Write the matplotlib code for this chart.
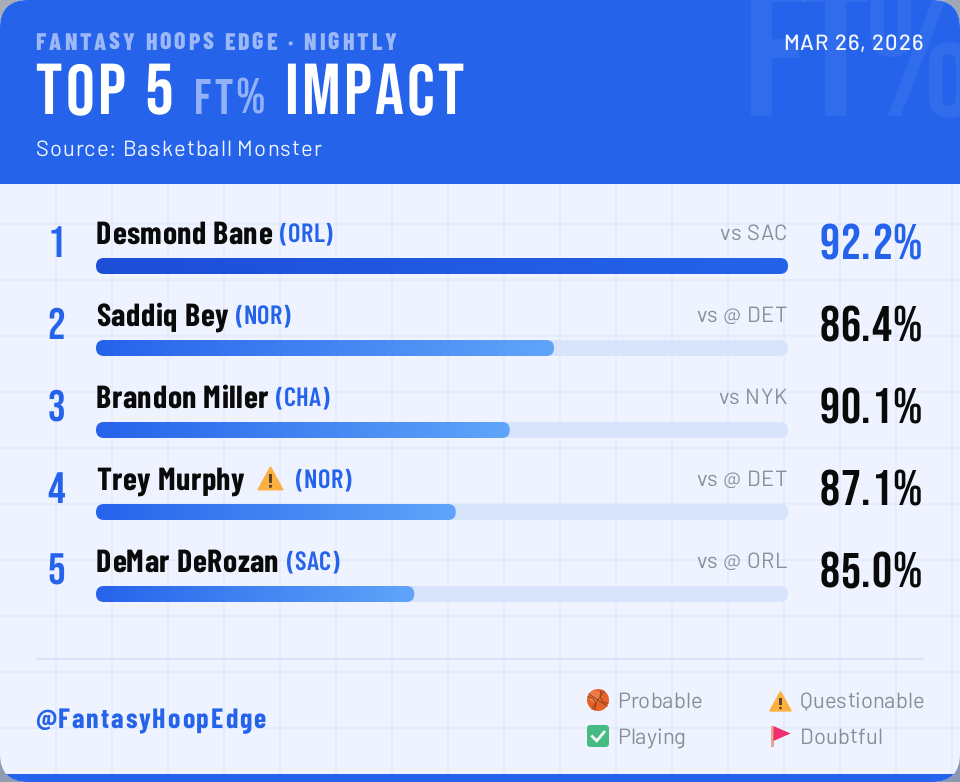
"""tarjeta top 5 FT% impact"""
import numpy as np
import matplotlib
matplotlib.use("Agg")
import matplotlib.pyplot as plt
from matplotlib.patches import FancyBboxPatch, Rectangle, Circle, Polygon, Arc
from matplotlib.text import Text
from matplotlib.transforms import Bbox
from matplotlib.colors import LinearSegmentedColormap

plt.rcParams["text.hinting"] = "no_hinting"
plt.rcParams["text.hinting_factor"] = 1

# datos de la tabla
rangos = ["1", "2", "3", "4", "5"]
jugadores = ["Desmond Bane", "Saddiq Bey", "Brandon Miller", "Trey Murphy", "DeMar DeRozan"]
equipos = ["(ORL)", "(NOR)", "(CHA)", "(NOR)", "(SAC)"]
rivales = ["vs SAC", "vs @ DET", "vs NYK", "vs @ DET", "vs @ ORL"]
porcentajes = ["92.2%", "86.4%", "90.1%", "87.1%", "85.0%"]
impacto = [100, 66.2, 59.8, 52, 46]
leyenda_izq = ["Probable", "Playing"]
leyenda_der = ["Questionable", "Doubtful"]

AZUL = "#2563eb"
GRIS = "#8a8e98"
NEGRO = "#0a0a0a"
FONDO = "#eef3ff"


class TextoEspaciado(Text):
    # texto normal pero con letter-spacing en pixeles
    def __init__(self, x, y, s, espacio=0, **kw):
        super().__init__(x, y, s, **kw)
        self.espacio = espacio

    def _ancho(self, renderer, s):
        return renderer.get_text_width_height_descent(s, self.get_fontproperties(), False)[0]

    def get_window_extent(self, renderer=None, dpi=None):
        bb = super().get_window_extent(renderer, dpi)
        extra = self.espacio * (len(self.get_text()) - 1)
        if self.get_ha() == "right":
            return Bbox.from_extents(bb.x0 - extra, bb.y0, bb.x1, bb.y1)
        if self.get_ha() == "center":
            return Bbox.from_extents(bb.x0 - extra / 2, bb.y0, bb.x1 + extra / 2, bb.y1)
        return Bbox.from_extents(bb.x0, bb.y0, bb.x1 + extra, bb.y1)

    def draw(self, renderer):
        completo = self.get_text()
        x, y = self.get_position()
        ha = self.get_ha()
        total = self._ancho(renderer, completo) + self.espacio * (len(completo) - 1)
        x0 = x
        if ha == "right":
            x0 = x - total
        elif ha == "center":
            x0 = x - total / 2
        self.set_ha("left")
        for i, ch in enumerate(completo):
            if ch == " ":
                continue
            dx = self._ancho(renderer, completo[:i + 1]) - self._ancho(renderer, ch)
            self.set_text(ch)
            self.set_x(x0 + dx + i * self.espacio)
            super().draw(renderer)
        self.set_text(completo)
        self.set_x(x)
        self.set_ha(ha)


fig = plt.figure(figsize=(9.6, 7.82), dpi=100)
ax = fig.add_axes([0, 0, 1, 1])
ax.set_xlim(0, 960)
ax.set_ylim(782, 0)
ax.axis("off")


def texto(x, y, s, px, color, familia="Barlow", peso="normal", ha="left", espacio=0, alpha=None, clip=None, z=5):
    t = TextoEspaciado(x, y, s, espacio=espacio, fontsize=px * 72 / 100, color=color, family=familia,
                       weight=peso, ha=ha, va="baseline", alpha=alpha, zorder=z)
    ax.add_artist(t)
    if clip is not None:
        t.set_clip_path(clip)
        t.set_clip_on(True)
    return t


def icono_alerta(x0, x1, y0, y1):
    g = (x1 - x0) * 0.06
    xc = (x0 + x1) / 2
    ax.add_patch(Polygon([[xc, y0 + g], [x1 - g, y1 - g], [x0 + g, y1 - g]], closed=True, fc="#fcb040", ec="#fcb040",
                         lw=1.5, joinstyle="round", zorder=6))
    alto = y1 - y0
    ax.add_patch(Rectangle((xc - alto * 0.05, y0 + alto * 0.32), alto * 0.1, alto * 0.36, fc="#5c4330", zorder=7))
    ax.add_patch(Circle((xc, y0 + alto * 0.81), alto * 0.065, fc="#5c4330", zorder=7))


def icono_balon(xc, yc, r):
    ax.add_patch(Circle((xc, yc), r, fc="#e5622a", ec="none", zorder=6))
    ax.add_patch(Circle((xc - r * 0.25, yc - r * 0.3), r * 0.55, fc="#f5945c", ec="none", alpha=0.55, zorder=6))
    tinta = "#8a3a1c"
    # costuras del balon
    ax.plot([xc - r * 0.55, xc + r * 0.55], [yc + r * 0.83, yc - r * 0.83], color=tinta, lw=0.6, zorder=7)
    ax.plot([xc - r * 0.83, xc + r * 0.83], [yc - r * 0.55, yc + r * 0.55], color=tinta, lw=0.6, zorder=7)
    ax.add_patch(Arc((xc - r * 0.95, yc + r * 0.45), r * 1.5, r * 1.5, theta1=-90, theta2=40, color=tinta, lw=0.6, zorder=7))
    ax.add_patch(Arc((xc + r * 0.95, yc - r * 0.45), r * 1.5, r * 1.5, theta1=90, theta2=220, color=tinta, lw=0.6, zorder=7))


def icono_check(x0, y0, lado):
    ax.add_patch(FancyBboxPatch((x0, y0), lado, lado, boxstyle="round,pad=0,rounding_size=3.5", fc="#46bb83", ec="none", zorder=6))
    ax.plot([x0 + lado * 0.24, x0 + lado * 0.44, x0 + lado * 0.78], [y0 + lado * 0.52, y0 + lado * 0.72, y0 + lado * 0.32],
            color="#f2fbf6", lw=2, solid_joinstyle="miter", zorder=7)


def icono_bandera(x0, y0):
    ax.add_patch(Rectangle((x0, y0), 2.5, 21, fc="#eaa58c", ec="none", zorder=6))
    ax.add_patch(Polygon([[x0 + 2.5, y0], [x0 + 19.5, y0 + 7.5], [x0 + 2.5, y0 + 15]], closed=True, fc="#ef2f6e", ec="none", zorder=6))


# fondo exterior, solo se ve en las esquinas
ax.imshow([[[0xa8, 0xae, 0xb8], [0x9d, 0xa7, 0xb6]], [[0x8f, 0x9c, 0xb1], [0x8a, 0x98, 0xb2]]],
          extent=(0, 960, 782, 0), aspect="auto", interpolation="bilinear", zorder=0)
ax.set_xlim(0, 960)
ax.set_ylim(782, 0)

tarjeta = FancyBboxPatch((0, 0), 960, 782, boxstyle="round,pad=0,rounding_size=28", fc=FONDO, ec="none", zorder=1)
ax.add_patch(tarjeta)

# cuadricula de fondo
for xg in range(56, 960, 56):
    ax.plot([xg, xg], [0, 782], color=AZUL, alpha=0.05, lw=1.3, zorder=2, clip_path=tarjeta)
for yg in range(56, 782, 56):
    ax.plot([0, 960], [yg, yg], color=AZUL, alpha=0.05, lw=1.3, zorder=2, clip_path=tarjeta)

# encabezado y franja de abajo
ax.add_patch(Rectangle((0, 0), 960, 184, fc=AZUL, ec="none", zorder=3, clip_path=tarjeta))
ax.add_patch(Rectangle((0, 774), 960, 8, fc=AZUL, ec="none", zorder=3, clip_path=tarjeta))

texto(742.5, 116, "FT%", 190, "white", "Bebas Neue", alpha=0.06, clip=tarjeta, espacio=-7, z=4)
texto(35.5, 50, "FANTASY HOOPS EDGE · NIGHTLY", 24, "#9db8f7", "Barlow Condensed", 800, espacio=2.9)
texto(35.5, 114, "TOP 5", 72, "white", "Bebas Neue", espacio=3.5)
texto(194, 114, "FT%", 50, "#92b1f6", "Bebas Neue", espacio=3)
texto(284, 114, "IMPACT", 72, "white", "Bebas Neue", espacio=3.3)
texto(35.5, 156, "Source: Basketball Monster", 22, "#eef3fe", "Barlow", espacio=0.95)
texto(923, 50, "MAR 26, 2026", 22, "#f4f7fe", "Barlow", "medium", ha="right", espacio=1)

# filas de jugadores
for i in range(5):
    y = 82 * i
    texto(56, 257 + y, rangos[i], 44, AZUL, "Bebas Neue", ha="center")
    nombre = texto(96, 244 + y, jugadores[i], 32, NEGRO, "Barlow Condensed", "bold", espacio=0.5)
    caja = nombre.get_window_extent(fig.canvas.get_renderer())
    x_eq = caja.x1 + 8
    if jugadores[i] == "Trey Murphy":
        icono_alerta(257, 284, 466, 491)
        x_eq = 296
    texto(x_eq, 242 + y, equipos[i], 26.5, AZUL, "Barlow Condensed", "semibold", espacio=0.4)
    texto(787, 240 + y, rivales[i], 22, GRIS, "Barlow", ha="right", espacio=0.5)
    texto(922, 259 + y, porcentajes[i], 50, AZUL if i == 0 else NEGRO, "Bebas Neue", ha="right", espacio=1)

# barras de impacto: eje propio de 0 a 100 con una unidad de y por fila
ax_b = fig.add_axes([96 / 960, 1 - 635 / 782, 692 / 960, 410 / 782])
ax_b.set_xlim(0, 100)
ax_b.set_ylim(4.5, -0.5)
ax_b.axis("off")
ax_b.patch.set_alpha(0)
alto_barra = 16 / 82
radio = 8 / 6.92
aspecto = 6.92 / 82
grad_1 = LinearSegmentedColormap.from_list("g1", ["#1d4ed8", AZUL])
grad_2 = LinearSegmentedColormap.from_list("g2", [AZUL, "#60a5fa"])
rampa = np.linspace(0, 1, 256).reshape(1, -1)
for i, valor in enumerate(impacto):
    y0 = i - alto_barra / 2
    ax_b.add_patch(FancyBboxPatch((0, y0), 100, alto_barra, boxstyle=f"round,pad=0,rounding_size={radio}",
                                  mutation_aspect=aspecto, fc="#d8e4fc", ec="none", zorder=1))
    barra = FancyBboxPatch((0, y0), valor, alto_barra, boxstyle=f"round,pad=0,rounding_size={radio}",
                           mutation_aspect=aspecto, fc="none", ec="none", zorder=2)
    ax_b.add_patch(barra)
    im = ax_b.imshow(rampa, cmap=grad_1 if i == 0 else grad_2, extent=(0, valor, y0 + alto_barra, y0),
                     aspect="auto", zorder=2)
    im.set_clip_path(barra)
ax_b.set_xlim(0, 100)
ax_b.set_ylim(4.5, -0.5)

# pie
ax.plot([36, 924], [659, 659], color="#d9e2fa", lw=1.5, solid_capstyle="butt", zorder=3)
texto(35, 728, "@FantasyHoopEdge", 28, AZUL, "Barlow Condensed", "bold", espacio=1.9)
texto(617, 708, leyenda_izq[0], 22, GRIS)
texto(617, 744, leyenda_izq[1], 22, GRIS)
texto(800, 708, leyenda_der[0], 22, GRIS)
texto(800, 744, leyenda_der[1], 22, GRIS)
icono_balon(598, 700, 11)
icono_alerta(769, 792, 691, 712)
icono_check(587, 725, 22)
icono_bandera(771, 726)

fig.savefig("out.png", dpi=100)
